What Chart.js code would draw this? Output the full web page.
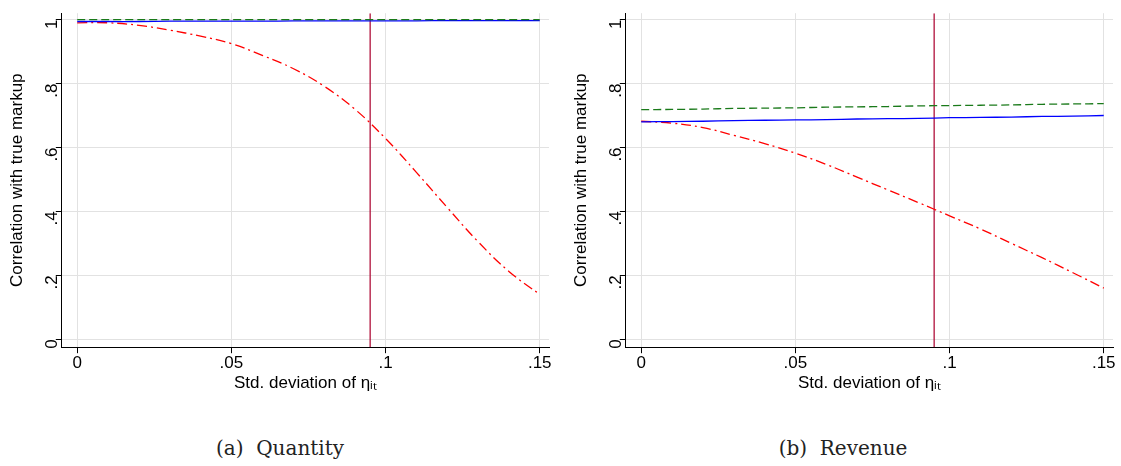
<!DOCTYPE html>
<html><head>
<script src="https://cdn.jsdelivr.net/npm/chart.js@4"></script>
<style>
body{margin:0;background:#fff;width:1121px;height:466px;position:relative;overflow:hidden}
.box{position:absolute;top:0;width:560px;height:398px}
.cap{position:absolute;top:436px;width:560px;text-align:center;font-family:"DejaVu Serif",serif;font-size:20px;color:#222}
</style></head><body>
<div class="box" style="left:-3px"><canvas id="c1"></canvas></div>
<div class="box" style="left:561px"><canvas id="c2"></canvas></div>
<div class="cap" style="left:0">(a)&nbsp; Quantity</div>
<div class="cap" style="left:563px">(b)&nbsp; Revenue</div>
<script>
const xs = [0,.01,.02,.03,.04,.05,.06,.07,.08,.09,.1,.11,.12,.13,.14,.15];
const qRed = [.99,.99,.982,.967,.948,.925,.888,.847,.792,.72,.628,.522,.412,.305,.212,.14];
const qGreen = [1.0,1.0,1.0,1.0,1.0,1.0,1.0,1.0,1.0,1.0,1.0,1.0,1.0,1.0,1.0,1.0];
const qBlue = [.994,.994,.994,.995,.995,.995,.995,.996,.996,.996,.996,.996,.997,.997,.997,.997];
const rRed = [.682,.676,.662,.638,.612,.582,.547,.507,.467,.427,.386,.345,.3,.255,.208,.16];
const rGreen = [.718,.719,.72,.722,.723,.724,.726,.727,.728,.73,.731,.732,.733,.735,.736,.737];
const rBlue = [.68,.681,.682,.684,.685,.686,.687,.689,.69,.691,.693,.694,.695,.697,.698,.7];
const xTicks = [0,.05,.1,.15];
const yTicks = [0,.2,.4,.6,.8,1];
const vline = .095;
const fmt = v => v===0?'0':(v===1?'1':String(+v.toFixed(2)).replace(/^0/,''));
function pts(ys){return xs.map((x,i)=>({x:x,y:ys[i]}));}
const F = '"Liberation Sans", Arial, sans-serif';
function make(id, red, green, blue){
  new Chart(document.getElementById(id),{
    type:'line',
    data:{datasets:[
      {data:pts(green),borderColor:'#1a7a1a',borderWidth:1.3,borderDash:[8,4],pointRadius:0,tension:.3},
      {data:pts(blue),borderColor:'#0000ff',borderWidth:1.3,pointRadius:0,tension:.3},
      {data:pts(red),borderColor:'#ff0000',borderWidth:1.3,borderDash:[10,4,2,4],pointRadius:0,tension:.4},
      {data:[{x:vline,y:-0.025},{x:vline,y:1.02}],borderColor:'#b0103a',borderWidth:1.3,pointRadius:0}
    ]},
    options:{animation:false,responsive:true,maintainAspectRatio:false,
      layout:{padding:{left:6,right:8,top:0,bottom:0}},
      plugins:{legend:{display:false},tooltip:{enabled:false}},
      scales:{
        x:{type:'linear',min:-0.005,max:0.153,
          afterBuildTicks:a=>{a.ticks=xTicks.map(v=>({value:v}));},
          grid:{color:'#e2e2e2',drawTicks:true,tickLength:6,tickColor:'#000'},border:{color:'#000'},
          ticks:{color:'#000',font:{family:F,size:17},callback:v=>fmt(v),maxRotation:0,padding:0},
          title:{display:true,text:'Std. deviation of ηᵢₜ',color:'#000',font:{family:F,size:17},padding:{top:0}}},
        y:{min:-0.025,max:1.02,
          afterBuildTicks:a=>{a.ticks=yTicks.map(v=>({value:v}));},
          grid:{color:'#e2e2e2',tickLength:6,tickColor:'#000'},border:{color:'#000'},
          ticks:{color:'#000',font:{family:F,size:17},callback:v=>fmt(v),minRotation:90,maxRotation:90},
          title:{display:true,text:'Correlation with true markup',color:'#000',font:{family:F,size:17},padding:{bottom:2}}}
      }}
  });
}
make('c1',qRed,qGreen,qBlue);
make('c2',rRed,rGreen,rBlue);
</script>
</body></html>
